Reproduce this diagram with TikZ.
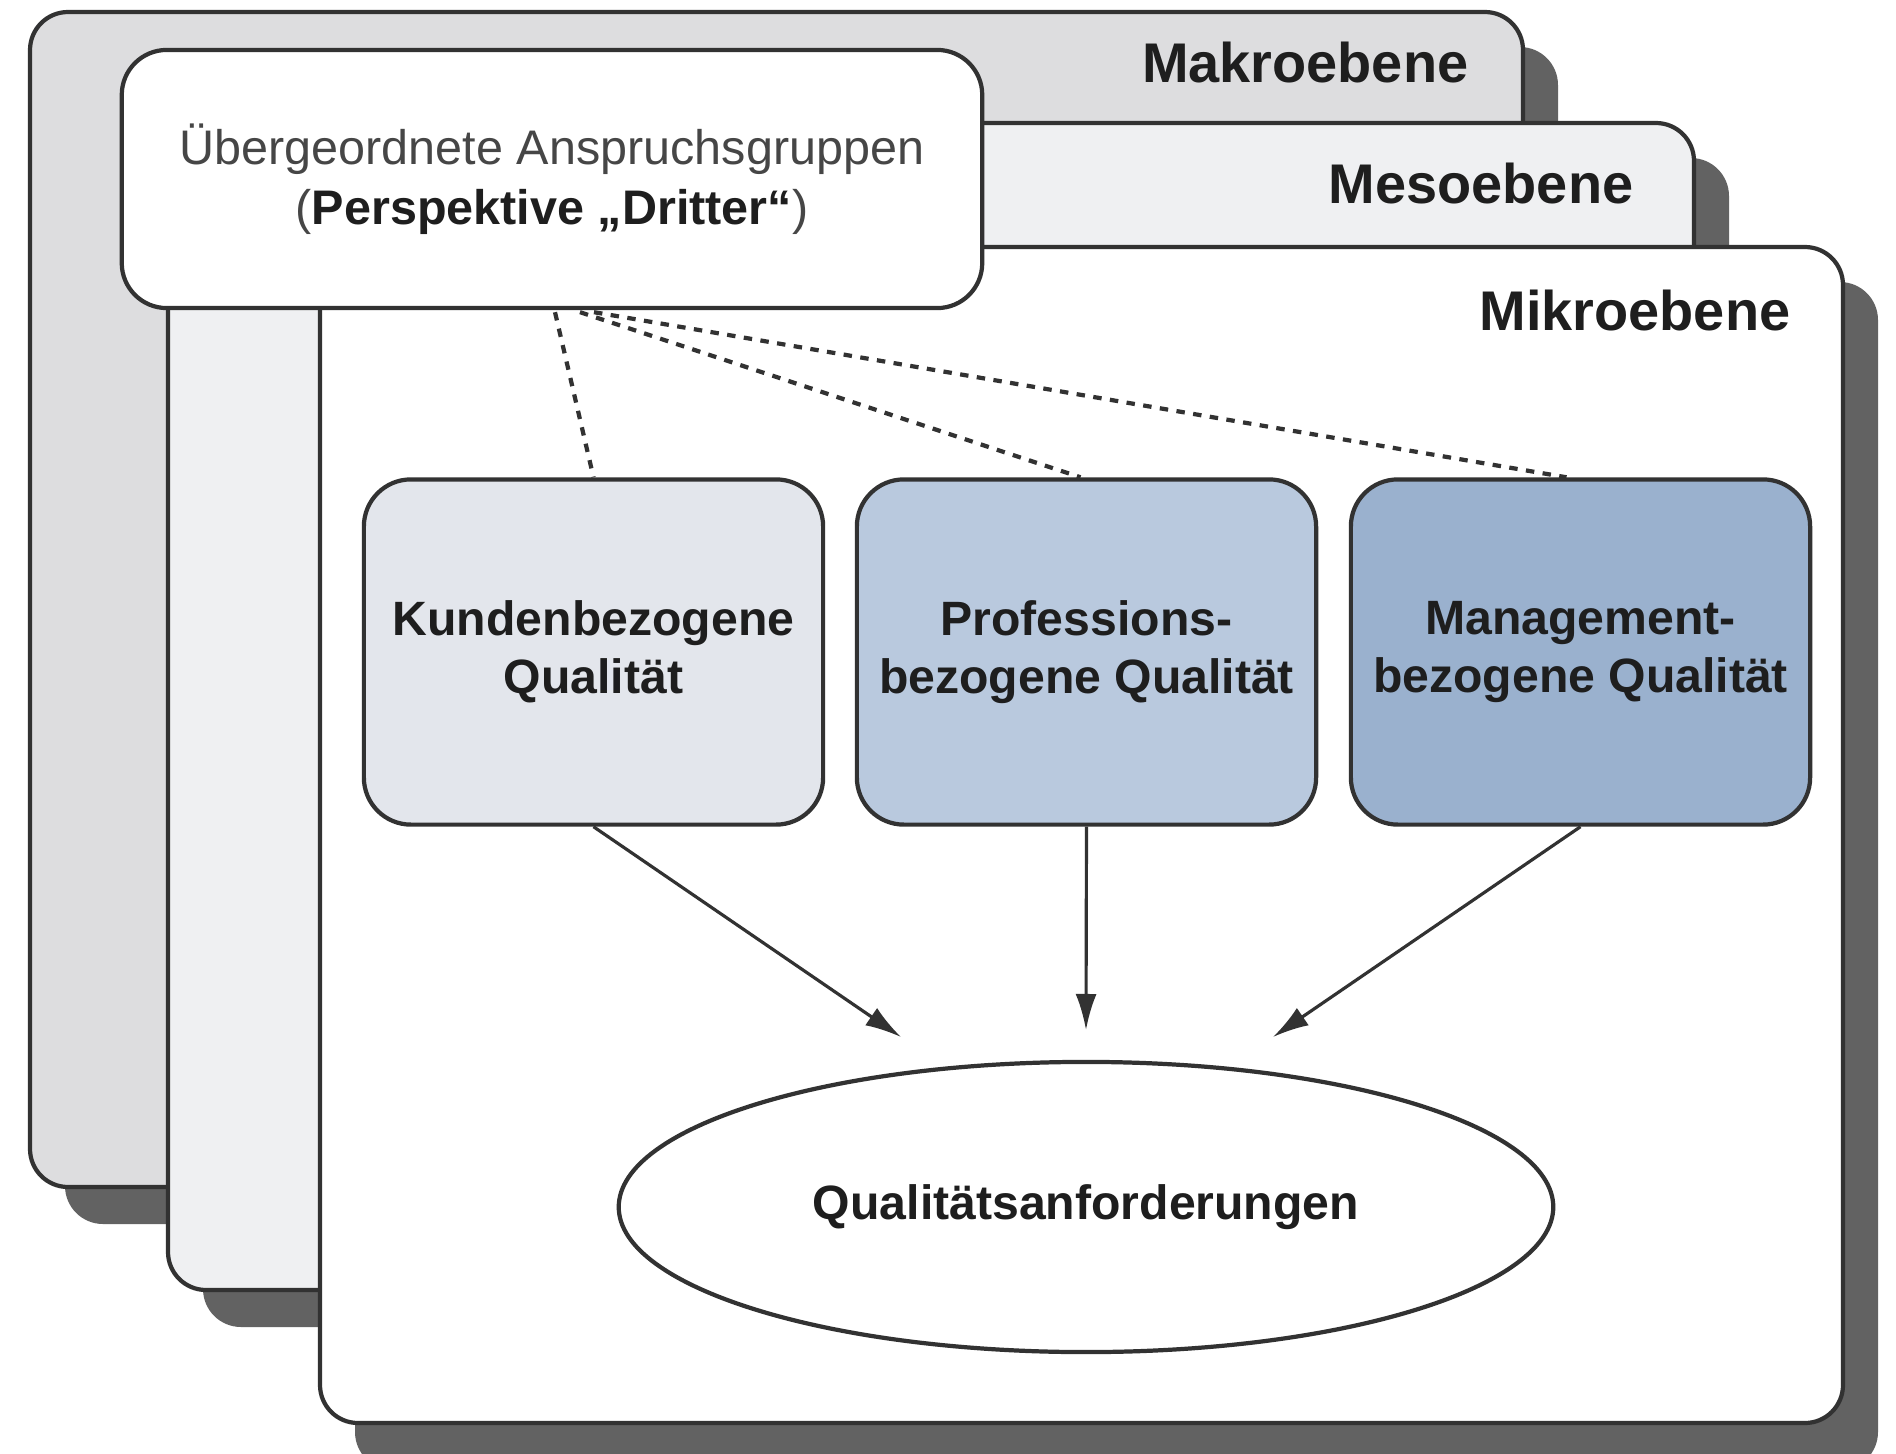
\documentclass[tikz,border=0pt]{standalone}
\usepackage{fontspec}
\setmainfont{Liberation Sans}
\usetikzlibrary{arrows.meta,shapes.geometric,calc}
\definecolor{edgec}{RGB}{50,50,50}
\definecolor{shadec}{RGB}{98,98,98}
\definecolor{makroc}{RGB}{221,221,223}
\definecolor{mesoc}{RGB}{239,240,242}
\definecolor{kundec}{RGB}{227,230,236}
\definecolor{profc}{RGB}{185,201,222}
\definecolor{mgmtc}{RGB}{154,177,206}
\definecolor{txtc}{RGB}{30,30,30}
\definecolor{greytxt}{RGB}{70,70,70}
\begin{document}
\begin{tikzpicture}[x=0.01cm,y=-0.01cm,
  panel/.style={draw=edgec,line width=1.2pt,rounded corners=0.38cm},
  shadowbox/.style={fill=shadec,rounded corners=0.38cm},
  levellabel/.style={anchor=east,inner sep=0pt,text=txtc,font=\fontsize{15.9}{19}\selectfont\bfseries},
  topbox/.style={draw=edgec,line width=1.2pt,fill=white,rounded corners=0.45cm,
    minimum width=8.6cm,minimum height=2.58cm,align=center,inner sep=0pt,
    font=\fontsize{13.8}{17}\selectfont},
  qbox/.style={draw=edgec,line width=1.2pt,rounded corners=0.47cm,
    minimum width=4.59cm,minimum height=3.45cm,align=center,inner sep=0pt,text=txtc,
    font=\fontsize{13.7}{16.6}\selectfont\bfseries},
  goal/.style={draw=edgec,line width=1.2pt,fill=white,ellipse,inner sep=0pt,
    minimum width=9.34cm,minimum height=2.9cm,text=txtc,
    font=\fontsize{13.7}{16.6}\selectfont\bfseries},
  dashlink/.style={draw=edgec,line width=1.2pt,dash pattern=on 2.4pt off 2.4pt},
  flow/.style={draw=edgec,line width=0.9pt,-{Latex[length=0.36cm,width=0.21cm]}}]
\useasboundingbox (0,0) rectangle (1896,1454);
\clip (0,0) rectangle (1896,1454);
% Makroebene
\path[shadowbox] (65,47) rectangle (1558,1224);
\draw[panel,fill=makroc] (30,12) rectangle (1523,1187);
% Mesoebene
\path[shadowbox] (203,158) rectangle (1729,1327);
\draw[panel,fill=mesoc] (168,123) rectangle (1694,1290);
% Mikroebene
\path[shadowbox] (355,282) rectangle (1878,1470);
\draw[panel,fill=white] (320,247) rectangle (1843,1423);
\node[levellabel] (makro) at (1469,63) {Makroebene};
\node[levellabel] (meso) at (1634,184) {Mesoebene};
\node[levellabel] (mikro) at (1791,311) {Mikroebene};
% top box
\node[topbox] (top) at (552,179) {{\color{greytxt}Übergeordnete Anspruchsgruppen}\\
  {\color{greytxt}(}{\color{txtc}\bfseries Perspektive „Dritter“}{\color{greytxt})}};
% quality boxes
\node[qbox,fill=kundec] (b1) at (593.5,652) {Kundenbezogene\\Qualität};
\node[qbox,fill=profc] (b2) at (1086.5,652) {Professions-\\bezogene Qualität};
\node[qbox,fill=mgmtc] (b3) at (1580.5,652) {Management-\\bezogene Qualität};
% goal
\node[goal] (ell) at (1086,1207) {Qualitätsanforderungen};
% dashed links
\draw[dashlink] ($(top.south)+(3,2)$) -- (b1.north);
\draw[dashlink] ($(top.south)+(28,2)$) -- ($(b2.north)+(-6,0)$);
\draw[dashlink] ($(top.south)+(42,2)$) -- ($(b3.north)+(-14,0)$);
% arrows
\coordinate (t1) at (901,1037);
\coordinate (t2) at (1086,1030);
\coordinate (t3) at (1273,1037);
\draw[flow] (b1.south) -- (t1);
\draw[flow] (b2.south) -- (t2);
\draw[flow] (b3.south) -- (t3);
\end{tikzpicture}
\end{document}
